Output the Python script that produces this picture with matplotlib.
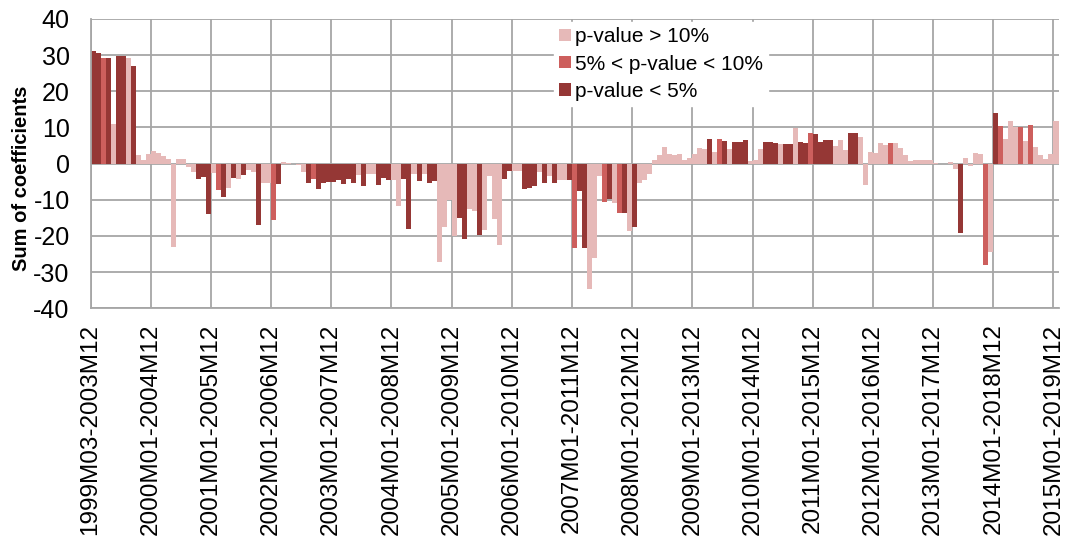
import matplotlib
matplotlib.use("Agg")
import matplotlib.pyplot as plt
from matplotlib.patches import Patch

plt.rcParams["font.family"] = ["Liberation Sans", "DejaVu Sans"]
plt.rcParams["axes.unicode_minus"] = False

# Sum of coefficients for each rolling window (193 windows)
values = [
    31.2, 30.7, 29.1, 29.1, 11.1, 29.8, 29.8, 29.1, 27.0, 2.5,
    1.0, 2.6, 3.6, 3.0, 2.2, 1.2, -23.0, 1.4, 1.4, -1.0,
    -2.2, -4.2, -3.8, -13.9, -2.5, -7.4, -9.2, -6.6, -3.9, -4.2,
    -3.2, -1.7, -2.3, -17.1, -5.4, -5.4, -15.5, -5.7, 0.5, 0.2,
    -0.2, -0.5, -2.3, -5.4, -4.2, -6.9, -5.4, -5.1, -5.1, -4.6,
    -5.7, -4.2, -5.4, -3.2, -6.2, -2.9, -2.9, -5.8, -4.1, -4.6,
    -4.4, -11.7, -4.3, -18.0, -2.9, -4.8, -2.9, -5.3, -4.8, -27.3,
    -17.4, -10.1, -20.1, -15.1, -20.9, -12.6, -13.0, -19.8, -18.3, -3.5,
    -15.4, -22.6, -4.3, -2.1, -2.1, -2.1, -7.1, -6.7, -6.2, -2.3,
    -5.3, -3.5, -5.3, -4.6, -4.4, -4.6, -23.3, -7.5, -23.3, -34.6,
    -26.1, -3.5, -10.5, -9.9, -11.0, -13.7, -13.7, -18.6, -17.4, -5.3,
    -4.4, -2.9, 0.9, 2.5, 4.6, 2.6, 2.3, 2.6, 0.9, 1.6,
    2.7, 4.4, 4.0, 6.9, 3.3, 6.9, 6.4, 4.1, 6.1, 6.1,
    6.6, 0.7, 0.9, 4.1, 6.1, 6.1, 5.7, 5.3, 5.4, 5.4,
    9.8, 6.1, 5.7, 8.5, 8.1, 6.1, 6.6, 6.6, 5.0, 6.6,
    3.7, 8.5, 8.5, 7.3, -5.8, 3.2, 2.9, 5.7, 5.2, 5.7,
    5.7, 4.4, 2.3, 0.6, 0.9, 0.9, 0.9, 0.9, 0.2, 0.0,
    0.0, 0.5, -1.4, -19.2, 1.6, -0.6, 3.0, 2.6, -28.1, -24.5,
    14.0, 10.5, 6.9, 11.7, 10.1, 10.1, 6.4, 10.8, 4.6, 2.3,
    1.4, 2.6, 11.7,
]

# significance class of each window: p = p>10%, m = 5%<p<10%, d = p<5%
signif = list(
    "ddmdpddpdp"
    "pppppppppp"
    "pdddpmdpdp"
    "dppdppmdpp"
    "pppdmddddd"
    "dddpdppddd"
    "ppddpdpddp"
    "pppddppdpp"
    "ppddppdddp"
    "dpdppdmddp"
    "ppmdpmdpdp"
    "pppppppppp"
    "pppdpmdpdd"
    "dpppdddpdd"
    "pddmddddpp"
    "pddppppppm"
    "pppppppppp"
    "pppdppppmp"
    "dmpppmpmpp"
    "ppp"
)

class_labels = ["p-value > 10%", "5% < p-value < 10%", "p-value < 5%"]
class_codes = ["p", "m", "d"]

tick_labels = ["1999M03-2003M12"] + [f"{y}M01-{y + 4}M12" for y in range(2000, 2016)]

colors = {"p": "#e6b9b8", "m": "#cd5f5d", "d": "#953735"}
grid_col = "#a6a6a6"

fig = plt.figure(figsize=(10.68, 5.49), dpi=100)
ax = fig.add_axes([90.5 / 1068, 1 - 308.3 / 549, 968.0 / 1068, 289.3 / 549])

x = list(range(len(values)))
ax.bar(x, values, width=1.0, align="edge",
       color=[colors[c] for c in signif], linewidth=0, zorder=2)

ax.set_xlim(0, len(values))
ax.set_ylim(-40, 40)
ax.set_yticks(range(-40, 41, 10))
ax.set_xticks(range(0, len(values), 12))
ax.set_xticklabels(tick_labels, rotation=90, fontsize=17.5)
ax.tick_params(axis="x", length=0, pad=11)
ax.tick_params(axis="y", length=0, pad=15, labelsize=18)

ax.set_axisbelow(True)
ax.grid(True, color=grid_col, linewidth=1.3)
for side in ["top", "right"]:
    ax.spines[side].set_visible(False)
for side in ["left", "bottom"]:
    ax.spines[side].set_color(grid_col)
    ax.spines[side].set_linewidth(1.3)

fig.text(22 / 1068, 1 - 178 / 549, "Sum of coefficients", rotation=90,
         ha="center", va="center", fontsize=14.5, fontweight="bold")

handles = [Patch(facecolor=colors[c], edgecolor="none") for c in class_codes]
leg = ax.legend(handles, class_labels, loc="upper left",
                bbox_to_anchor=(554 / 1068, 1 - 22 / 549),
                bbox_transform=fig.transFigure,
                frameon=True, facecolor="white", edgecolor="white", framealpha=1,
                fontsize=15, handlelength=0.55, handleheight=0.55,
                handletextpad=0.2, labelspacing=0.4, borderpad=0.25,
                borderaxespad=0, fancybox=False)
leg.set_zorder(5)

fig.savefig("out.png", dpi=100)
